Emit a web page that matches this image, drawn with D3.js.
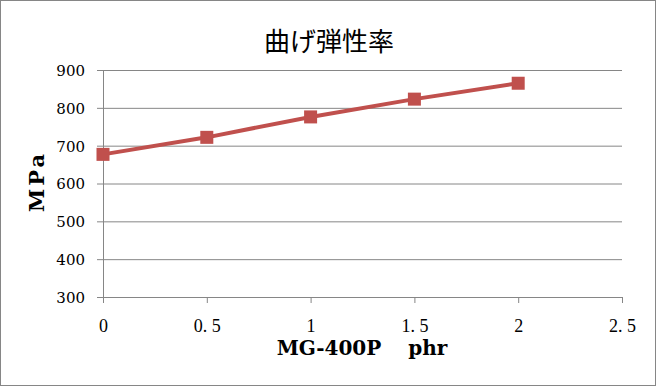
<!DOCTYPE html>
<html>
<head>
<meta charset="utf-8">
<script src="https://cdn.jsdelivr.net/npm/d3@7"></script>
<style>
  body { margin: 0; background: #fff; }
  svg { display: block; }
</style>
</head>
<body>
<div id="chart"></div>
<script>
const xValues = [0, 0.5, 1, 1.5, 2]
const modulus = [677, 722, 776, 823, 865]
const xTicks = [0, 0.5, 1, 1.5, 2, 2.5]
const yTicks = [300, 400, 500, 600, 700, 800, 900]

const width = 656, height = 386
const margin = {top: 70, right: 34, bottom: 89, left: 103}

const svg = d3.select('#chart').append('svg')
  .attr('width', width)
  .attr('height', height)

// outer frame
svg.append('rect')
  .attr('x', 0.5).attr('y', 0.5)
  .attr('width', width - 1).attr('height', height - 1)
  .attr('fill', '#fff')
  .attr('stroke', '#868686')

const x = d3.scaleLinear().domain([0, 2.5]).range([margin.left, width - margin.right])
const y = d3.scaleLinear().domain([300, 900]).range([height - margin.bottom, margin.top])

// grid + y axis
const yAxis = svg.append('g')
  .attr('transform', `translate(${margin.left},0)`)
  .call(d3.axisLeft(y).tickValues(yTicks).tickSizeInner(6).tickSizeOuter(0).tickPadding(12))
yAxis.select('.domain').attr('stroke', '#868686')
yAxis.selectAll('.tick line').attr('stroke', '#868686')
yAxis.selectAll('.tick').append('line')
  .attr('x2', x(2.5) - margin.left)
  .attr('stroke', '#868686')
yAxis.selectAll('text')
  .attr('fill', '#000')
  .attr('dy', '0.36em')
  .style('font-family', '"DejaVu Serif", serif')
  .style('font-size', '15px')

// x axis
const xAxis = svg.append('g')
  .attr('transform', `translate(0,${y(300)})`)
  .call(d3.axisBottom(x).tickValues(xTicks).tickSizeInner(6).tickSizeOuter(0).tickPadding(16)
    .tickFormat(d => String(d).replace('.', '. ')))
xAxis.select('.domain').attr('stroke', '#868686')
xAxis.selectAll('.tick line').attr('stroke', '#868686')
xAxis.selectAll('text')
  .attr('fill', '#000')
  .attr('xml:space', 'preserve')
  .style('font-family', '"Liberation Serif", serif')
  .style('font-size', '18px')

// line
const line = d3.line().x((d, i) => x(xValues[i])).y(d => y(d))
svg.append('path')
  .datum(modulus)
  .attr('d', line)
  .attr('fill', 'none')
  .attr('stroke', '#C0504D')
  .attr('stroke-width', 4)

svg.append('g').selectAll('rect')
  .data(modulus)
  .enter().append('rect')
  .attr('x', (d, i) => x(xValues[i]) - 6.5)
  .attr('y', d => y(d) - 6.5)
  .attr('width', 13)
  .attr('height', 13)
  .attr('fill', '#C0504D')

// titles
svg.append('text')
  .attr('x', 329).attr('y', 51)
  .attr('text-anchor', 'middle')
  .style('font-family', '"Noto Sans CJK JP", sans-serif')
  .style('font-size', '26px')
  .text('曲げ弾性率')

svg.append('text')
  .attr('x', 362).attr('y', 355)
  .attr('text-anchor', 'middle')
  .attr('xml:space', 'preserve')
  .style('font-family', '"DejaVu Serif", serif')
  .style('font-weight', 'bold')
  .style('font-size', '20px')
  .text('MG-400P　 phr')

svg.append('text')
  .attr('transform', `translate(44,183) rotate(-90)`)
  .attr('text-anchor', 'middle')
  .attr('dx', '1.5')
  .style('font-family', '"DejaVu Serif", serif')
  .style('font-weight', 'bold')
  .style('font-size', '21px')
  .style('letter-spacing', '3px')
  .text('MPa')
</script>
</body>
</html>
